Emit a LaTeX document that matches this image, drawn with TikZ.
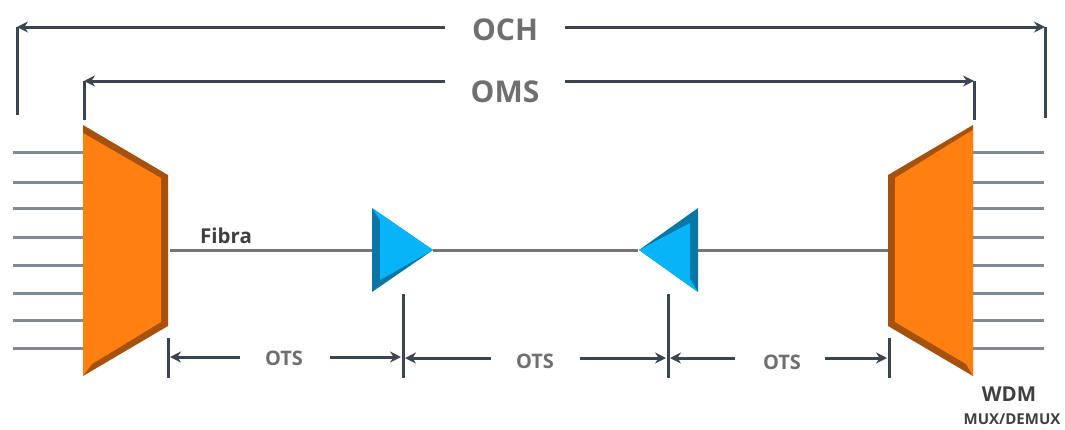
\documentclass[tikz,border=0pt]{standalone}
\usepackage{fontspec}
\setmainfont{Open Sans}
\usetikzlibrary{arrows.meta}
\definecolor{dimc}{HTML}{3B4552}
\definecolor{labc}{HTML}{6F6F6F}
\definecolor{chanc}{HTML}{7F8A99}
\definecolor{fibc}{HTML}{767676}
\definecolor{org}{HTML}{FF7F11}
\definecolor{orgd}{HTML}{A5520F}
\definecolor{blu}{HTML}{06B4F8}
\definecolor{blud}{HTML}{0A76A6}
\tikzset{
  dimline/.style={draw=dimc,line width=3pt},
  dimarrow/.style={dimline,-{Stealth[length=11pt,width=11pt]}},
  chan/.style={draw=chanc,line width=3pt},
  fib/.style={draw=fibc,line width=3pt},
  biglab/.style={text=labc,font=\bfseries\fontsize{30}{32}\selectfont,inner sep=0pt},
  otslab/.style={text=labc,font=\bfseries\fontsize{20}{22}\selectfont,inner sep=0pt},
  blklab/.style={text=black!75,inner sep=0pt,font=\bfseries\fontsize{20.5}{22}\selectfont}
}
\begin{document}
\begin{tikzpicture}[x=1pt,y=-1pt]
\useasboundingbox[fill=white] (0,0) rectangle (1065,429);
% anchor points
\coordinate (ochL) at (17,27);
\coordinate (ochLb) at (17,115);
\coordinate (ochR) at (1045,27);
\coordinate (ochRb) at (1045,118);
\coordinate (ochLs) at (445,27);
\coordinate (ochRs) at (565,27);
\coordinate (omsL) at (84,81);
\coordinate (omsLb) at (84,120);
\coordinate (omsR) at (974,81);
\coordinate (omsRb) at (974,120);
\coordinate (omsLs) at (445,81);
\coordinate (omsRs) at (565,81);
% channels
\foreach \y [count=\i] in {152,182,208,237,265,293,320,348}{
  \coordinate (la\i) at (13,\y); \coordinate (lb\i) at (83,\y);
  \coordinate (ra\i) at (973,\y); \coordinate (rb\i) at (1044,\y);
  \draw[chan] (la\i) -- (lb\i);
  \draw[chan] (ra\i) -- (rb\i);
}
% fibre
\coordinate (muxO) at (170,250);
\coordinate (ampAin) at (372,250);
\coordinate (ampAout) at (433,250);
\coordinate (ampBin) at (638,250);
\coordinate (ampBout) at (698,250);
\coordinate (demuxO) at (888,250);
\draw[fib] (muxO) -- (ampAin);
\draw[fib] (ampAout) -- (ampBin);
\draw[fib] (ampBout) -- (demuxO);
% left trapezoid
\fill[orgd] (83,125) -- (168,175) -- (168,326) -- (83,376) -- cycle;
\fill[org] (83,133) -- (161,178) -- (161,322) -- (92,364) -- (83,376) -- cycle;
% right trapezoid
\fill[orgd] (973,125) -- (888,175) -- (888,326) -- (973,376) -- cycle;
\fill[org] (973,130) -- (966,134) -- (895,178) -- (895,322) -- (966,364) -- (973,376) -- cycle;
% left amp
\fill[blud] (372,208) -- (433,250) -- (372,292) -- cycle;
\fill[blu] (372,208) -- (433,250) -- (380,280) -- (380,220) -- cycle;
% right amp
\fill[blud] (698,208) -- (639,250) -- (698,292) -- cycle;
\fill[blu] (690,223) -- (639,250) -- (698,292) -- (690,279) -- cycle;
% OCH / OMS
\draw[dimline] (ochLb) -- (ochL);
\draw[dimline] (ochRb) -- (ochR);
\draw[dimarrow] (ochLs) -- (ochL);
\draw[dimarrow] (ochRs) -- (ochR);
\draw[dimline] (omsLb) -- (omsL);
\draw[dimline] (omsRb) -- (omsR);
\draw[dimarrow] (omsLs) -- (omsL);
\draw[dimarrow] (omsRs) -- (omsR);
\node[biglab] (lo) at (505,30) {OCH};
\node[biglab] (lm) at (505,92) {OMS};
% OTS
\coordinate (t1a) at (168,338); \coordinate (t1b) at (168,378);
\coordinate (t2a) at (403,294); \coordinate (t2b) at (403,378);
\coordinate (t3a) at (668,294); \coordinate (t3b) at (668,378);
\coordinate (t4a) at (889,338); \coordinate (t4b) at (889,378);
\foreach \i in {1,2,3,4}{\draw[dimline] (t\i a) -- (t\i b);}
\coordinate (a1) at (170,357); \coordinate (a2) at (401,357);
\coordinate (a3) at (405,358); \coordinate (a4) at (666,358);
\coordinate (a5) at (670,358); \coordinate (a6) at (887,358);
\coordinate (s1) at (240,357); \coordinate (s2) at (330,357);
\coordinate (s3) at (491,358); \coordinate (s4) at (580,358);
\coordinate (s5) at (735,358); \coordinate (s6) at (825,358);
\foreach \i in {1,...,6}{\draw[dimarrow] (s\i) -- (a\i);}
\node[otslab] (o1) at (284,358) {OTS};
\node[otslab] (o2) at (535,361) {OTS};
\node[otslab] (o3) at (782,362) {OTS};
\node[blklab] (fibra) at (226,236) {Fibra};
\node[blklab] (wdm) at (1009,394) {WDM};
\node[blklab,font=\bfseries\fontsize{15}{17}\selectfont] (mux) at (1012,419.5) {MUX/DEMUX};
\end{tikzpicture}
\end{document}
